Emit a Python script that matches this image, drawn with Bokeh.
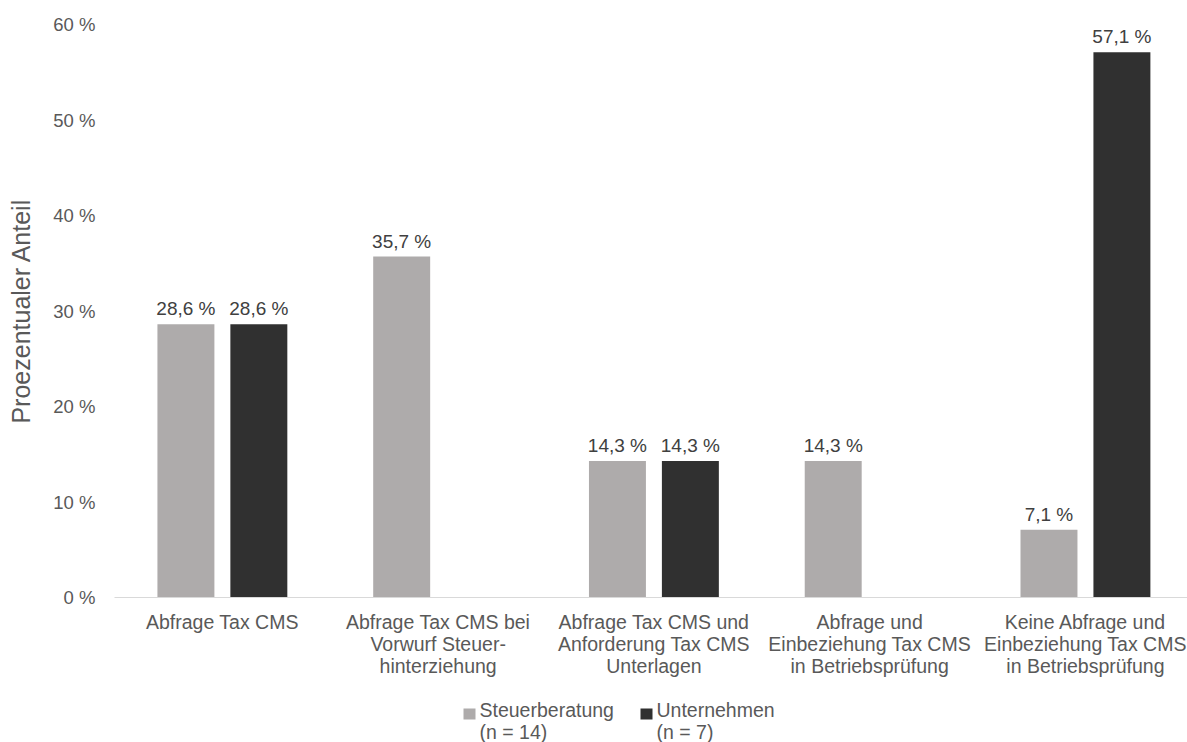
from bokeh.plotting import figure
from bokeh.layouts import column
from bokeh.models import (ColumnDataSource, Range1d, FixedTicker, LabelSet)
from bokeh.core.properties import value
from bokeh.transform import dodge
from bokeh.embed import file_html
from bokeh.resources import INLINE

categories = [
    "Abfrage Tax CMS",
    "Abfrage Tax CMS bei\nVorwurf Steuer-\nhinterziehung",
    "Abfrage Tax CMS und\nAnforderung Tax CMS\nUnterlagen",
    "Abfrage und\nEinbeziehung Tax CMS\nin Betriebsprüfung",
    "Keine Abfrage und\nEinbeziehung Tax CMS\nin Betriebsprüfung",
]
steuerberatung = [28.6, 35.7, 14.3, 14.3, 7.1]
unternehmen = [28.6, 0.0, 14.3, 0.0, 57.1]
series_names = ["Steuerberatung\n(n = 14)", "Unternehmen\n(n = 7)"]
y_ticks = [0, 10, 20, 30, 40, 50, 60]

FONT = "Liberation Sans"
GREY = "#aeabab"
DARK = "#303030"
TXT = "#595959"
series_colors = [GREY, DARK]

def fmt(v):
    return ("%.1f" % v).replace(".", ",") + " %"

xs = list(range(len(categories)))
src1 = ColumnDataSource(dict(x=xs, y=steuerberatung, lab=[fmt(v) for v in steuerberatung]))
ux = [x for x, v in zip(xs, unternehmen) if v > 0]
uv = [v for v in unternehmen if v > 0]
src2 = ColumnDataSource(dict(x=ux, y=uv, lab=[fmt(v) for v in uv]))

LEFT = 114
p = figure(width=1187, height=690, output_backend="svg", toolbar_location=None,
           x_range=Range1d(-0.5, 4.473), y_range=Range1d(0, 60),
           min_border_left=LEFT, min_border_right=0, min_border_top=24, min_border_bottom=93)
p.outline_line_color = None
p.xgrid.grid_line_color = None
p.ygrid.grid_line_color = None

off = 0.169
bw = 0.264
r1 = p.vbar(x=dodge("x", -off, range=p.x_range), top="y", width=bw, source=src1,
            fill_color=GREY, line_color=None)
r2 = p.vbar(x=dodge("x", off, range=p.x_range), top="y", width=bw, source=src2,
            fill_color=DARK, line_color=None)

for src, o in ((src1, -off), (src2, off)):
    p.add_layout(LabelSet(x=dodge("x", o, range=p.x_range), y="y", text="lab", source=src,
                          text_align="center", text_baseline="bottom", y_offset=5,
                          text_font=value(FONT), text_font_size="19px", text_color="#404040"))

# axes
p.xaxis.ticker = FixedTicker(ticks=xs)
p.xaxis.major_label_overrides = {i: c for i, c in enumerate(categories)}
p.xaxis.major_tick_line_color = None
p.xaxis.minor_tick_line_color = None
p.xaxis.axis_line_color = "#d9d9d9"
p.xaxis.axis_line_width = 1
p.xaxis.major_label_text_font = FONT
p.xaxis.major_label_text_font_size = "19.5px"
p.xaxis.major_label_text_line_height = 1.0
p.xaxis.major_label_text_color = TXT
p.xaxis.major_label_standoff = 7

p.yaxis.ticker = FixedTicker(ticks=y_ticks)
p.yaxis.major_label_overrides = {t: "%d %%" % t for t in y_ticks}
p.yaxis.major_tick_line_color = None
p.yaxis.minor_tick_line_color = None
p.yaxis.axis_line_color = None
p.yaxis.major_label_text_font = FONT
p.yaxis.major_label_text_font_size = "18.5px"
p.yaxis.major_label_text_color = TXT
p.yaxis.major_label_standoff = 13
p.yaxis.axis_label = "Proezentualer Anteil"
p.yaxis.axis_label_text_font = FONT
p.yaxis.axis_label_text_font_size = "25px"
p.yaxis.axis_label_text_font_style = "normal"
p.yaxis.axis_label_text_color = TXT
p.yaxis.axis_label_standoff = 15

# legend strip below the chart (data units equal pixels inside the strip)
lg = figure(width=1187, height=52, output_backend="svg", toolbar_location=None,
            x_range=Range1d(LEFT, 1187), y_range=Range1d(0, 52),
            x_axis_type=None, y_axis_type=None,
            min_border_left=LEFT, min_border_right=0, min_border_top=0, min_border_bottom=0)
lg.outline_line_color = None
lg.xgrid.grid_line_color = None
lg.ygrid.grid_line_color = None

swatch_x = [469, 646]
text_x = [479, 656]
lg.rect(x=swatch_x, y=[28.5, 28.5], width=12, height=11, fill_color=series_colors,
        line_color=None)
lg.text(x=text_x, y=[44, 44], text=series_names, text_font=value(FONT),
        text_font_size="19.5px", text_color=TXT, text_baseline="top", text_align="left",
        text_line_height=1.0)

layout = column(p, lg, spacing=0)
open("out.html", "w").write(file_html(layout, INLINE))
